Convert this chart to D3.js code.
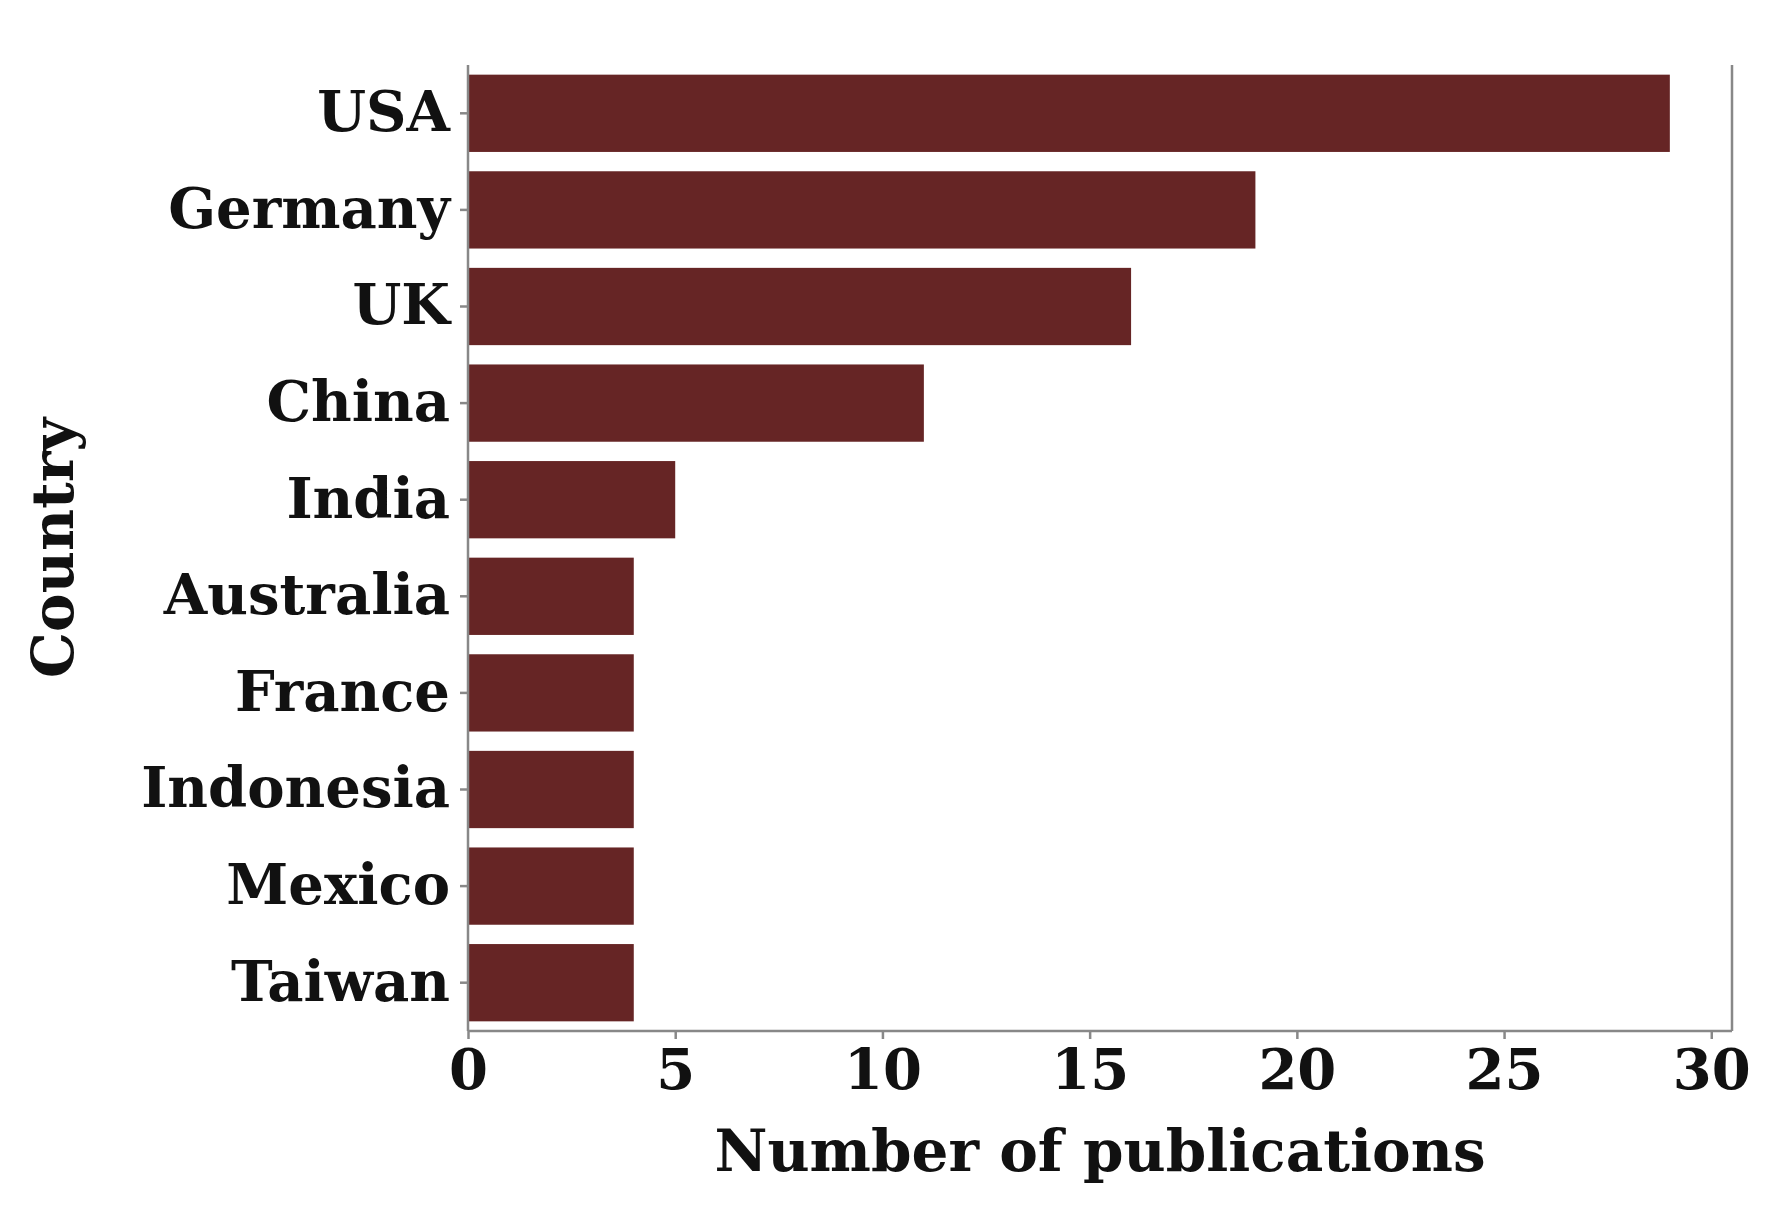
<!DOCTYPE html>
<html><head><meta charset="utf-8">
<script src="https://cdn.jsdelivr.net/npm/d3@7"></script>
<style>body{margin:0;background:#fff}</style></head>
<body><div id="chart"></div>
<script>
var countries = ["USA","Germany","UK","China","India","Australia","France","Indonesia","Mexico","Taiwan"];
var publications = [29,19,16,11,5,4,4,4,4,4];
var xTicks = [0,5,10,15,20,25,30];

var W = 1788, H = 1216;
var margin = {top: 65, right: 56, bottom: 185, left: 468};
var width = W - margin.left - margin.right, height = H - margin.top - margin.bottom;
var font = "'DejaVu Serif', serif";

var svg = d3.select("#chart").append("svg").attr("width", W).attr("height", H)
  .append("g").attr("transform", "translate(" + margin.left + "," + margin.top + ")");

var x = d3.scaleLinear().domain([0, 30.5]).range([0, width]);
var y = d3.scaleBand().domain(countries).range([0, height]).paddingInner(0.2).paddingOuter(0.1);

svg.selectAll(".bar").data(countries).join("rect")
  .attr("x", 0).attr("y", d => y(d))
  .attr("width", (d, i) => x(publications[i]))
  .attr("height", y.bandwidth())
  .attr("fill", "#662525");

var gx = svg.append("g").attr("transform", "translate(0," + height + ")")
  .call(d3.axisBottom(x).tickValues(xTicks).tickSize(8).tickPadding(10));
var gy = svg.append("g").call(d3.axisLeft(y).tickSize(8).tickPadding(10));
[gx, gy].forEach(g => {
  g.selectAll("text").style("font-family", font).style("font-weight", "bold")
    .style("font-size", "56px").attr("fill", "#111");
  g.selectAll("line,path").attr("stroke", "#888").attr("stroke-width", 2.5);
});
gy.select(".domain").attr("d", "M0,0V" + height);
gx.select(".domain").attr("d", "M0,0H" + width);

svg.append("line").attr("x1", width).attr("x2", width).attr("y1", 0).attr("y2", height)
  .attr("stroke", "#888").attr("stroke-width", 2.5);

svg.append("text").attr("x", width / 2).attr("y", height + 140)
  .attr("text-anchor", "middle").style("font-family", font).style("font-weight", "bold")
  .style("font-size", "58px").attr("fill", "#111").text("Number of publications");

svg.append("text").attr("transform", "translate(" + (-395) + "," + (height / 2) + ") rotate(-90)")
  .attr("text-anchor", "middle").style("font-family", font).style("font-weight", "bold")
  .style("font-size", "58px").attr("fill", "#111").text("Country");
</script></body></html>
